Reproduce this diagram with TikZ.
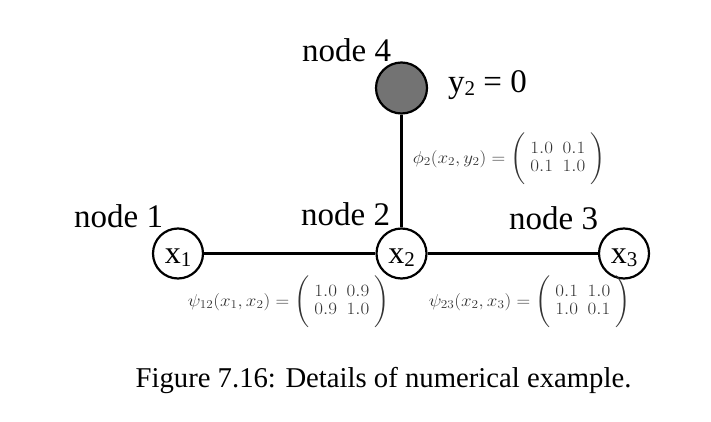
\documentclass[tikz,border=0pt]{standalone}
\usepackage[no-math]{fontspec}
\setmainfont{Liberation Serif}
\usepackage{amsmath}
\usepackage{graphicx}
\newcommand{\lowsub}[1]{\raisebox{-3pt}{\fontsize{21}{21}\selectfont #1}}
\newcommand{\mtx}[4]{\Bigg(\begin{array}{cc}#1&#2\\#3&#4\end{array}\Bigg)}
\tikzset{
  varnode/.style={circle, draw, line width=2.2pt, minimum size=50pt, inner sep=0pt, text height=20pt, text depth=0pt, font=\fontsize{32}{36}\selectfont},
  obsnode/.style={circle, draw, line width=2.2pt, minimum size=51pt, inner sep=0pt, fill=black!55},
  lbl/.style={anchor=base west, inner sep=0pt, font=\fontsize{33}{38}\selectfont},
  eqn/.style={inner sep=0pt, text=black!80, font=\fontsize{17}{18.4}\selectfont},
  edge/.style={line width=2.2pt},
}
\begin{document}
\begin{tikzpicture}[x=1pt, y=-1pt]
\useasboundingbox (0,0) rectangle (711,422);
\setlength{\arraycolsep}{4.4pt}
\node[varnode] (n1) at (178,253.5) {x\lowsub{1}};
\node[varnode] (n2) at (401.5,253.5) {x\lowsub{2}};
\node[varnode] (n3) at (624,253.5) {x\lowsub{3}};
\node[obsnode] (n4) at (401.5,88) {};
\draw[edge] (n1) -- (n2);
\draw[edge] (n2) -- (n3);
\draw[edge] (n4) -- (n2);
\node[lbl] (l4) at (302,62) {node 4};
\node[lbl] (y2) at (448,93) {y\lowsub{2} = 0};
\node[lbl] (l1) at (74,227) {node 1};
\node[lbl] (l2) at (301,225) {node 2};
\node[lbl] (l3) at (509,229) {node 3};
\node[eqn] (phi) at (509,159) {\scalebox{1.1}[1]{$\phi_2(x_2,y_2)=\mtx{1.0}{0.1}{0.1}{1.0}$}};
\node[eqn] (psi12) at (288.5,302) {\scalebox{1.1}[1]{$\psi_{12}(x_1,x_2)=\mtx{1.0}{0.9}{0.9}{1.0}$}};
\node[eqn] (psi23) at (529.5,302) {\scalebox{1.1}[1]{$\psi_{23}(x_2,x_3)=\mtx{0.1}{1.0}{1.0}{0.1}$}};
\node[anchor=base, inner sep=0pt, font=\fontsize{28.7}{34}\selectfont] (cap) at (383.5,387) {Figure 7.16: Details of numerical example.};
\end{tikzpicture}
\end{document}
